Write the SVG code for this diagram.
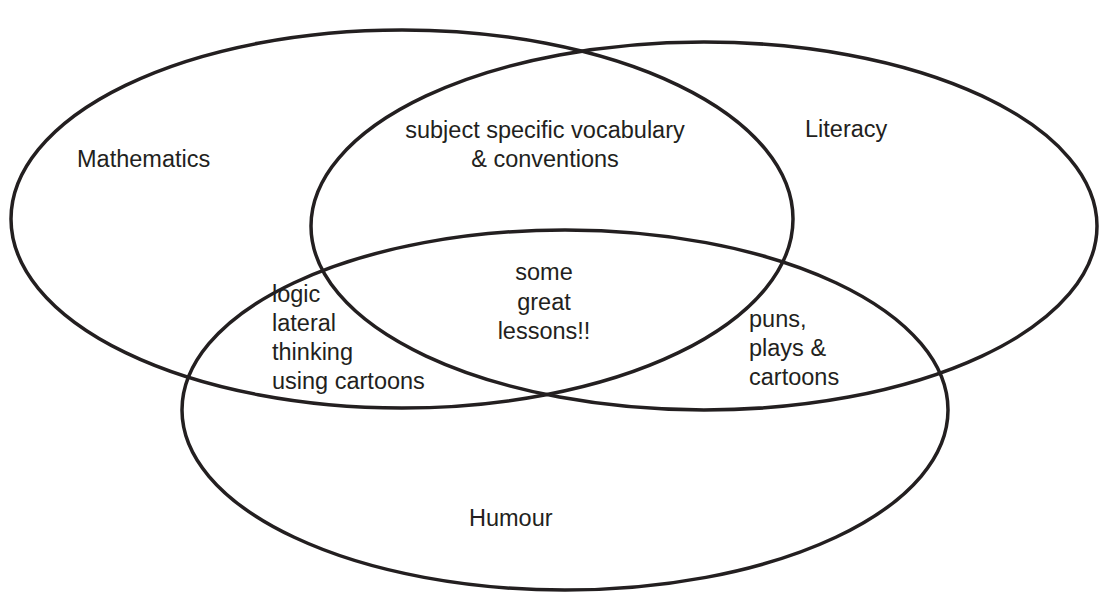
<svg xmlns="http://www.w3.org/2000/svg" width="1100" height="597" viewBox="0 0 1100 597">
<style>
.set{fill:none;stroke:#231f20;stroke-width:3.5}
text{font-family:"Liberation Sans",Arial,sans-serif;font-size:23.5px;fill:#231f20}
.c{text-anchor:middle}
</style>
<rect width="1100" height="597" fill="#fff"/>
<g id="mathematics"><ellipse class="set" cx="402" cy="219" rx="391" ry="189"/><text x="77" y="167">Mathematics</text></g>
<g id="literacy"><ellipse class="set" cx="704" cy="226" rx="393" ry="184"/><text x="805" y="137">Literacy</text></g>
<g id="humour"><ellipse class="set" cx="565" cy="410" rx="383" ry="180"/><text x="469" y="526">Humour</text></g>
<g id="math-literacy"><text class="c" x="545" y="138">subject specific vocabulary</text><text class="c" x="545" y="167">&amp; conventions</text></g>
<g id="all-three"><text class="c" x="544" y="280">some</text><text class="c" x="544" y="310">great</text><text class="c" x="544" y="339">lessons!!</text></g>
<g id="math-humour"><text x="272" y="302">logic</text><text x="272" y="331">lateral</text><text x="272" y="360">thinking</text><text x="272" y="389">using cartoons</text></g>
<g id="literacy-humour"><text x="749" y="327">puns,</text><text x="749" y="356">plays &amp;</text><text x="749" y="385">cartoons</text></g>
<g id="connectors"/>
</svg>
